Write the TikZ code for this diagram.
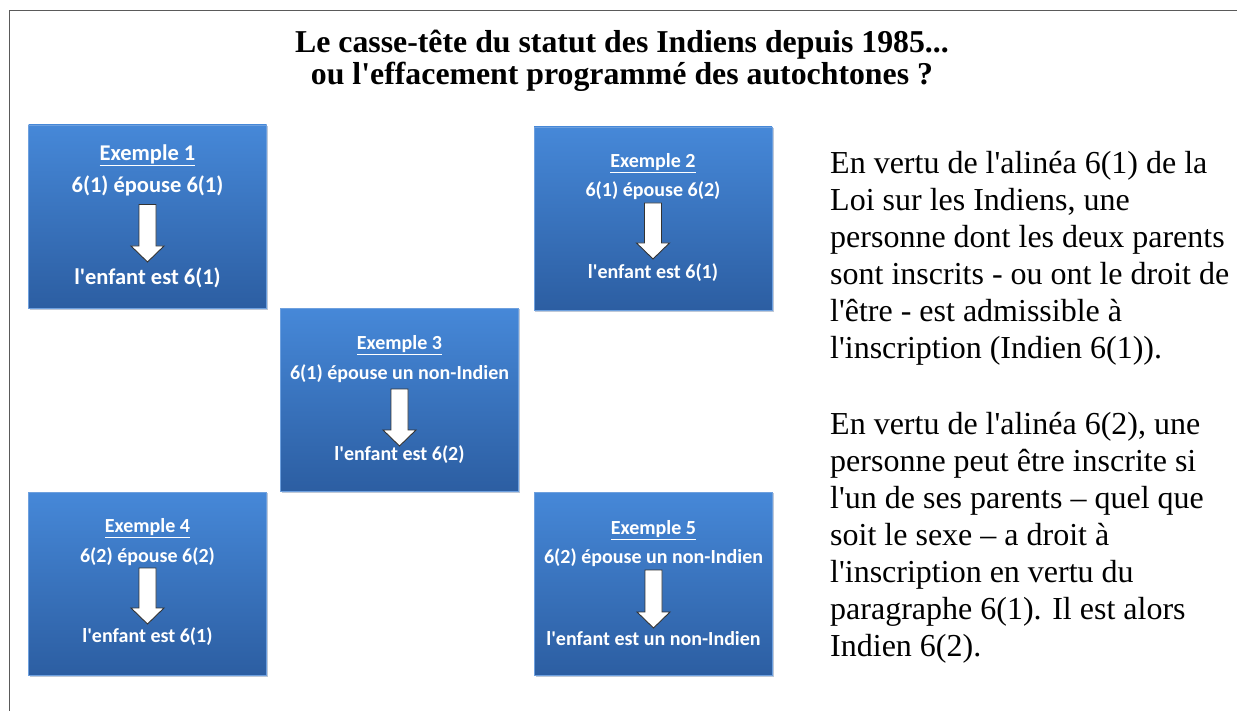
\documentclass[tikz,border=0pt]{standalone}
\usepackage{fontspec}
\newfontfamily\serif{Liberation Serif}
\newfontfamily\boxfont{Carlito}
\usetikzlibrary{positioning,calc}
\definecolor{boxtop}{RGB}{70,136,216}
\definecolor{boxbot}{RGB}{44,94,162}
\definecolor{boxedge}{RGB}{110,160,222}
\definecolor{boxshade}{RGB}{190,200,215}
\definecolor{frameline}{RGB}{90,90,90}
\tikzset{
  exbox/.style={minimum width=238pt, minimum height=183pt, inner sep=0pt,
    top color=boxtop, bottom color=boxbot, draw=boxedge, line width=0.8pt},
  extxt/.style={text=white, inner sep=0pt,
    font=\boxfont\bfseries\fontsize{#1}{#1}\selectfont},
  downarrow/.style={fill=white, draw=black!80, line width=0.9pt},
}
\begin{document}
\begin{tikzpicture}[x=1pt,y=-1pt]
    \useasboundingbox (0,0) rectangle (1237,711);
    % Frame
    \draw[frameline, line width=1pt] (9,711) -- (9,11) -- (1237,11);
    % Title
    \node[font=\serif\bfseries\fontsize{31.8}{32.5}\selectfont, align=center] (titre) at (622,61)
        {Le casse-tête du statut des Indiens depuis 1985...\\ou l'effacement programmé des autochtones ?};
    % Examples: number / centre / font size / offsets / texts
    \foreach \n/\cx/\cy/\fs/\a/\b/\c/\d/\e/\lb/\lc in {
        1/147.5/216.5/22.5/-61/-30.5/-12/45.5/61.5/6(1) épouse 6(1)/l'enfant est 6(1),
        2/653/218.5/20/-55/-27.5/-15.5/40.5/54.5/6(1) épouse 6(2)/l'enfant est 6(1),
        3/399.5/400/20/-55/-26/-11/46/55/6(1) épouse un non-Indien/l'enfant est 6(2),
        4/147.5/583.5/20/-55.5/-26.5/-15.5/40.5/53.5/6(2) épouse 6(2)/l'enfant est 6(1),
        5/653.5/583.5/20/-53.5/-25.5/-13.5/44.5/55.5/6(2) épouse un non-Indien/l'enfant est un non-Indien}
    {
        \draw[boxshade, line width=1.5pt] ($(\cx,\cy)+(-118,92.5)$) -- ++(238,0) -- ++(0,-183);
        \node[exbox] (ex\n) at (\cx,\cy) {};
        \node[extxt=\fs] (nom\n) at ($(ex\n.center)+(0,\a)$) {\underline{Exemple \n}};
        \node[extxt=\fs] (cas\n) at ($(ex\n.center)+(0,\b)$) {\lb};
        \node[extxt=\fs] (res\n) at ($(ex\n.center)+(0,\e)$) {\lc};
        \draw[downarrow] ($(ex\n.center)+(-8.5,\c)$) -- ($(ex\n.center)+(8.5,\c)$)
            -- ($(ex\n.center)+(8.5,\d-16)$) -- ($(ex\n.center)+(16.5,\d-16)$)
            -- ($(ex\n.center)+(0,\d)$) -- ($(ex\n.center)+(-16.5,\d-16)$)
            -- ($(ex\n.center)+(-8.5,\d-16)$) -- cycle;
    }
    % Explanation
    \node[anchor=north west, align=left, inner sep=0pt,
          font=\serif\fontsize{32}{37}\selectfont] (texte) at (830,151)
        {En vertu de l'alinéa 6(1) de la\\
         Loi sur les Indiens, une\\
         personne dont les deux parents\\
         sont inscrits - ou ont le droit de\\
         l'être - est admissible à\\
         l'inscription (Indien 6(1)).\\[39pt]
         En vertu de l'alinéa 6(2), une\\
         personne peut être inscrite si\\
         l'un de ses parents – quel que\\
         soit le sexe – a droit à\\
         l'inscription en vertu du\\
         paragraphe 6(1). Il est alors\\
         Indien 6(2).};
\end{tikzpicture}
\end{document}
